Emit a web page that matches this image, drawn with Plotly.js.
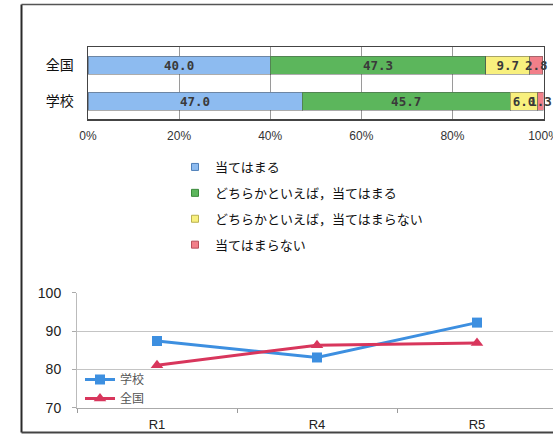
<!DOCTYPE html>
<html>
<head>
<meta charset="utf-8">
<script src="https://cdn.plot.ly/plotly-3.0.1.min.js"></script>
<style>
  html, body { margin: 0; padding: 0; background: #fff; }
  #chart { width: 553px; height: 434px; }
</style>
</head>
<body>
<div id="chart"></div>
<script>
// Response breakdown (percent of respondents)
const groups = ['全国', '学校'];
const answerLabels = [
  '当てはまる',
  'どちらかといえば，当てはまる',
  'どちらかといえば，当てはまらない',
  '当てはまらない'
];
const agree = [40.0, 47.0];
const somewhatAgree = [47.3, 45.7];
const somewhatDisagree = [9.7, 6.0];
const disagree = [2.8, 1.3];
const answerColors = ['#8dbbf0', '#5cb65c', '#f8f07e', '#f27f89'];
const answerEdges = ['#4f7fb8', '#3a8a3a', '#b9b050', '#b8505a'];

// Score trend by year
const years = ['R1', 'R4', 'R5'];
const schoolScores = [87.4, 83.1, 92.2];
const nationalScores = [81.1, 86.3, 86.9];
const trendNames = ['学校', '全国'];
const trendColors = ['#3d8fe0', '#d8365c'];

// page geometry helpers (pixel -> paper fraction)
const W = 553, H = 434;
const px = x => x / W;
const py = y => 1 - y / H;

const answerSeries = [agree, somewhatAgree, somewhatDisagree, disagree];
const traces = [];

answerSeries.forEach((vals, i) => {
  traces.push({
    type: 'bar',
    orientation: 'h',
    y: groups,
    x: vals,
    name: answerLabels[i],
    text: vals.map(v => v.toFixed(1)),
    textposition: 'inside',
    insidetextanchor: 'middle',
    textangle: 0,
    constraintext: 'none',
    cliponaxis: false,
    textfont: { family: 'DejaVu Sans Mono', size: 12.5, color: '#3a3a3a', weight: 'bold' },
    marker: { color: answerColors[i], line: { color: 'rgba(70,70,70,0.45)', width: 1 } },
    xaxis: 'x', yaxis: 'y',
    showlegend: false,
    hoverinfo: 'skip'
  });
});

// small square keys for the answer legend
answerLabels.forEach((label, i) => {
  traces.push({
    type: 'scatter',
    mode: 'markers',
    x: [null], y: [null],
    name: label,
    legend: 'legend',
    legendgroup: 'ans' + i,
    marker: { symbol: 'square', size: 7, color: answerColors[i], line: { color: answerEdges[i], width: 1 } },
    xaxis: 'x', yaxis: 'y',
    hoverinfo: 'skip'
  });
});

[schoolScores, nationalScores].forEach((vals, i) => {
  traces.push({
    type: 'scatter',
    mode: 'lines+markers',
    x: years,
    y: vals,
    name: trendNames[i],
    legend: 'legend2',
    line: { color: trendColors[i], width: 3 },
    marker: { symbol: i === 0 ? 'square' : 'triangle-up', size: i === 0 ? 10 : 11, color: trendColors[i] },
    xaxis: 'x2', yaxis: 'y2',
    cliponaxis: false,
    hoverinfo: 'skip'
  });
});

const frameColor = '#2a2a2a';

const layout = {
  width: W,
  height: H,
  margin: { l: 0, r: 0, t: 0, b: 0, pad: 0 },
  paper_bgcolor: '#fff',
  plot_bgcolor: '#fff',
  barmode: 'stack',
  bargap: 0.5,
  showlegend: true,
  xaxis: {
    domain: [px(88), px(543.5)],
    range: [0, 100],
    tickvals: [0, 20, 40, 60, 80, 100],
    ticktext: ['0%', '20%', '40%', '60%', '80%', '100%'],
    ticklabeloverflow: 'allow',
    showgrid: true,
    gridcolor: '#9a9a9a',
    gridwidth: 1,
    showline: true,
    linecolor: '#444',
    linewidth: 1.5,
    mirror: true,
    zeroline: false,
    ticks: '',
    ticklabelstandoff: 5,
    tickfont: { family: 'Liberation Sans', size: 12, color: '#333' },
    anchor: 'y',
    fixedrange: true
  },
  yaxis: {
    domain: [py(119), py(47)],
    type: 'category',
    categoryarray: groups,
    autorange: 'reversed',
    showgrid: false,
    showline: true,
    linecolor: '#444',
    linewidth: 1.5,
    mirror: true,
    ticks: '',
    ticklabelstandoff: 10,
    tickfont: { family: 'Noto Sans CJK JP', size: 14, color: '#111' },
    anchor: 'x',
    fixedrange: true
  },
  xaxis2: {
    domain: [px(77), 1],
    type: 'category',
    range: [-0.5, 2.475],
    showgrid: false,
    showline: true,
    linecolor: '#aaa',
    linewidth: 1,
    ticks: 'outside',
    tickson: 'boundaries',
    ticklen: 4,
    tickcolor: '#999',
    ticklabelstandoff: 5,
    tickfont: { family: 'Liberation Sans', size: 13, color: '#222' },
    anchor: 'y2',
    fixedrange: true
  },
  yaxis2: {
    domain: [py(407.7), py(292.7)],
    range: [70, 100],
    dtick: 10,
    showgrid: true,
    gridcolor: '#c4c4c4',
    gridwidth: 1,
    showline: true,
    linecolor: '#bbb',
    linewidth: 1,
    zeroline: false,
    ticks: 'outside',
    ticklen: 4,
    tickcolor: '#aaa',
    ticklabelstandoff: 8,
    tickfont: { family: 'Liberation Sans', size: 14, color: '#222' },
    anchor: 'x2',
    fixedrange: true
  },
  legend: {
    x: px(175), xanchor: 'left',
    y: py(152), yanchor: 'top',
    bgcolor: 'rgba(0,0,0,0)',
    borderwidth: 0,
    tracegroupgap: 6,
    itemclick: false, itemdoubleclick: false,
    font: { family: 'Noto Sans CJK JP', size: 13, color: '#111' }
  },
  legend2: {
    x: px(80), xanchor: 'left',
    y: py(365), yanchor: 'top',
    bgcolor: 'rgba(0,0,0,0)',
    borderwidth: 0,
    itemclick: false, itemdoubleclick: false,
    font: { family: 'Noto Sans CJK JP', size: 12, color: '#555' }
  },
  shapes: [
    // page frame: left, top and bottom rules
    { type: 'line', xref: 'paper', yref: 'paper', x0: px(21.5), x1: px(21.5), y0: py(4.5), y1: py(432.5),
      line: { color: frameColor, width: 2 } },
    { type: 'line', xref: 'paper', yref: 'paper', x0: px(21.5), x1: 1, y0: py(4.5), y1: py(4.5),
      line: { color: '#555', width: 1.5 } },
    { type: 'line', xref: 'paper', yref: 'paper', x0: px(21.5), x1: 1, y0: py(432.5), y1: py(432.5),
      line: { color: '#444', width: 2 } }
  ]
};

Plotly.newPlot('chart', traces, layout, { displayModeBar: false, staticPlot: true });
</script>
</body>
</html>
